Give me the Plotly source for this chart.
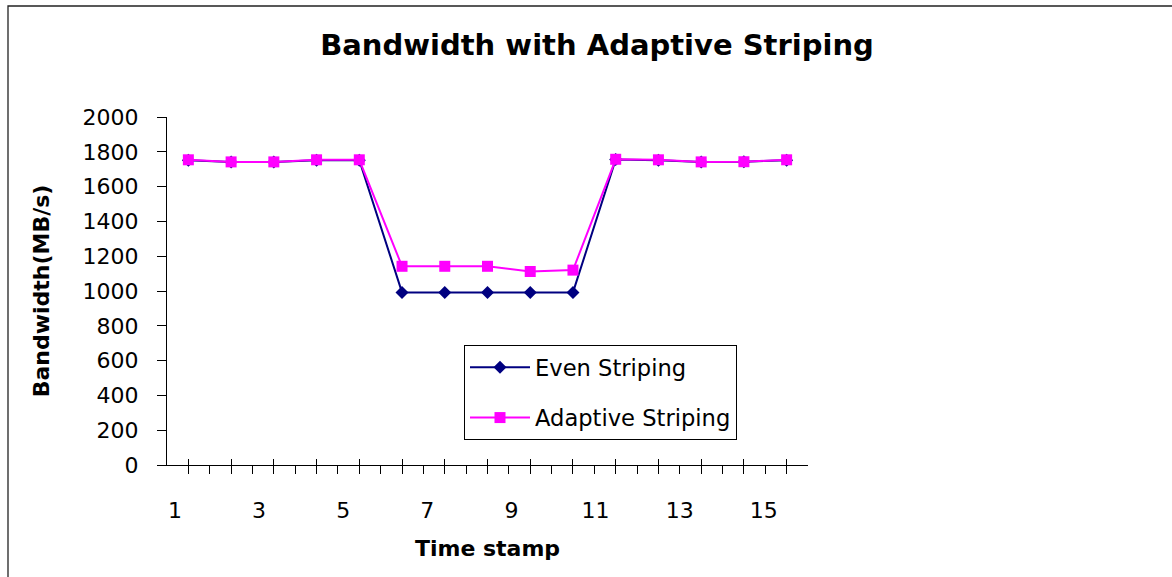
import plotly.graph_objects as go

# ---- data -------------------------------------------------------------
time_stamps = list(range(1, 16))
even_striping = [1752, 1742, 1742, 1752, 1752, 992, 992, 992, 992, 992,
                 1756, 1752, 1742, 1743, 1752]
adaptive_striping = [1754, 1742, 1742, 1754, 1754, 1142, 1142, 1142, 1112, 1120,
                     1757, 1754, 1742, 1743, 1754]
x_label_values = [1, 3, 5, 7, 9, 11, 13, 15]
x_label_text = [str(v) for v in x_label_values]
y_tick_values = list(range(0, 2001, 200))

FONT = "DejaVu Sans"
W, H = 1172, 577
L, R, T, B = 167, 364, 117, 112

fig = go.Figure()

fig.add_trace(go.Scatter(
    x=time_stamps, y=even_striping, name="Even Striping",
    mode="lines+markers", legendgroup="even",
    line=dict(color="#000080", width=2),
    marker=dict(symbol="diamond", size=10, color="#000080"),
))
fig.add_trace(go.Scatter(
    x=time_stamps, y=adaptive_striping, name="Adaptive Striping",
    mode="lines+markers", legendgroup="adaptive",
    line=dict(color="#FF00FF", width=2),
    marker=dict(symbol="square", size=11, color="#FF00FF"),
))

# empty helper trace so the overlaid label axis gets drawn
fig.add_trace(go.Scatter(
    x=time_stamps, y=[None] * len(time_stamps), xaxis="x2",
    mode="lines", showlegend=False, hoverinfo="skip",
))

fig.update_layout(
    width=W, height=H,
    margin=dict(l=L, r=R, t=T, b=B, pad=0),
    paper_bgcolor="white", plot_bgcolor="white",
    font=dict(family=FONT, size=22, color="black"),
    title=dict(
        text="<b>Bandwidth with Adaptive Striping</b>",
        font=dict(family=FONT, size=29, color="black"),
        xref="container", yref="container",
        x=597 / W, y=1 - 45 / H, xanchor="center", yanchor="middle",
    ),
    showlegend=True,
    legend=dict(
        x=(464 - L) / (W - L - R), y=(H - B - 345) / (H - T - B),
        xanchor="left", yanchor="top",
        bgcolor="white", bordercolor="black", borderwidth=1,
        font=dict(family=FONT, size=22.6, color="black"),
        traceorder="grouped", tracegroupgap=18,
        itemwidth=60,
    ),
    # short ticks at the time stamps (crossing the axis) and at the
    # category boundaries (below the axis)
    xaxis=dict(
        range=[0.5, 15.5], showgrid=False, zeroline=False,
        showline=True, linecolor="black", linewidth=1,
        tickmode="linear", tick0=1, dtick=1,
        ticks="inside", ticklen=6, tickcolor="black", tickwidth=1,
        showticklabels=False,
        minor=dict(ticks="outside", ticklen=8, tick0=0.5, dtick=0.5,
                   tickcolor="black", tickwidth=1, showgrid=False),
        title=dict(text="<b>Time stamp</b>", standoff=75,
                   font=dict(family=FONT, size=22, color="black")),
    ),
    # tick labels for every other time stamp
    xaxis2=dict(
        overlaying="x", anchor="y", side="bottom",
        range=[0.81, 16.05], showgrid=False, zeroline=False, showline=False,
        tickmode="array", tickvals=x_label_values, ticktext=x_label_text,
        ticks="", ticklabelstandoff=30,
        tickfont=dict(family=FONT, size=22, color="black"),
    ),
    yaxis=dict(
        range=[0, 2000], showgrid=False, zeroline=False,
        showline=True, linecolor="black", linewidth=1,
        tickmode="array", tickvals=y_tick_values,
        ticks="outside", ticklen=9, tickcolor="black", tickwidth=1,
        ticklabelstandoff=14,
        tickfont=dict(family=FONT, size=22, color="black"),
        title=dict(text="<b>Bandwidth(MB/s)</b>", standoff=26,
                   font=dict(family=FONT, size=22, color="black")),
    ),
)

# outer chart frame
fig.add_shape(
    type="rect", xref="paper", yref="paper",
    x0=(8 - L) / (W - L - R), x1=(W + 10 - L) / (W - L - R),
    y0=(H - B - (H + 10)) / (H - T - B), y1=(H - B - 6) / (H - T - B),
    line=dict(color="#222222", width=1.3), fillcolor="rgba(0,0,0,0)",
    layer="below",
)

fig.write_html("out.html")
